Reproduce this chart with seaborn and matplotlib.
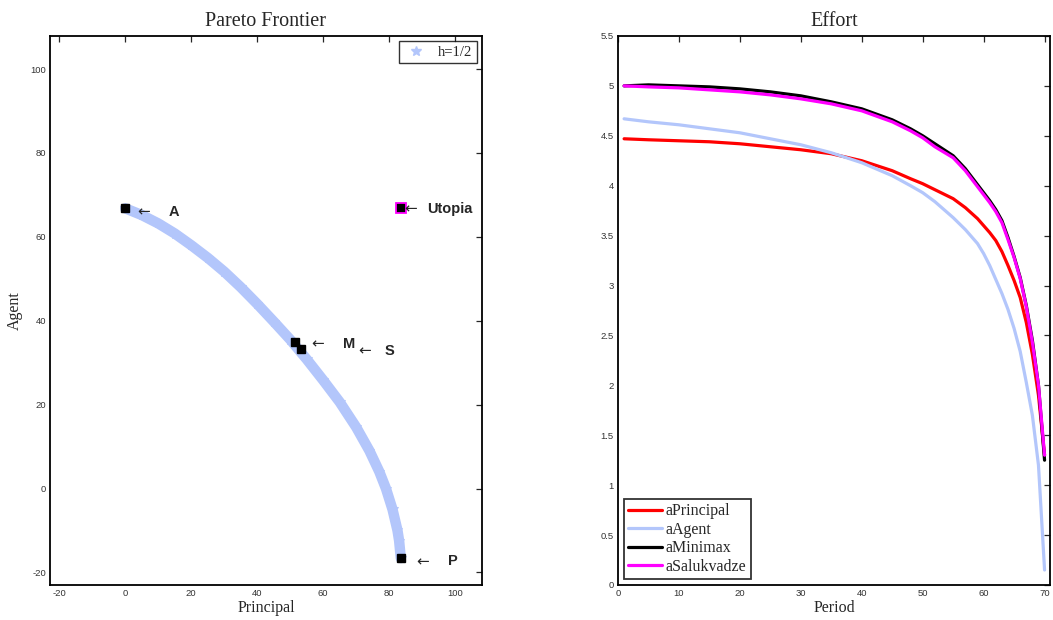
import numpy as np
import pandas as pd
import matplotlib
matplotlib.use("Agg")
import matplotlib.pyplot as plt
from matplotlib.lines import Line2D
import seaborn as sns

# Pareto frontier (h=1/2)
principal = [0.0, 5, 10, 15, 20, 25, 30, 35, 40, 45, 50, 55, 60, 65, 70, 74, 77, 79, 81, 82.5, 83, 83.5]
agent = [66.8, 65.2, 63.2, 60.8, 58.0, 55.0, 51.7, 48.0, 44.0, 39.8, 35.5, 30.8, 25.8, 20.6, 14.6,
         9.0, 4.0, 0.0, -5.0, -10.0, -12.5, -16.6]

# special solutions
point_names = ["A", "M", "S", "P"]
point_principal = [0.0, 51.4, 53.4, 83.5]
point_agent = [66.8, 35.0, 33.2, -16.6]
utopia = (83.5, 66.8)

# effort paths
period = [1, 5, 10, 15, 20, 25, 30, 35, 40, 45, 48, 50, 52, 55, 57, 59, 60, 61, 62, 63, 64, 65,
          66, 67, 68, 69, 70]
a_principal = [4.47, 4.46, 4.45, 4.44, 4.42, 4.39, 4.36, 4.32, 4.25, 4.15, 4.07, 4.02, 3.96, 3.87,
               3.78, 3.67, 3.60, 3.53, 3.45, 3.34, 3.20, 3.05, 2.88, 2.63, 2.31, 1.90, 1.30]
a_agent = [4.67, 4.64, 4.61, 4.57, 4.53, 4.47, 4.41, 4.33, 4.23, 4.10, 4.00, 3.93, 3.84, 3.68,
           3.56, 3.42, 3.32, 3.20, 3.06, 2.92, 2.76, 2.57, 2.34, 2.03, 1.70, 1.20, 0.15]
a_minimax = [5.00, 5.01, 5.00, 4.99, 4.97, 4.94, 4.90, 4.84, 4.77, 4.66, 4.57, 4.50, 4.42, 4.30,
             4.17, 4.01, 3.93, 3.85, 3.76, 3.65, 3.48, 3.29, 3.08, 2.80, 2.45, 2.00, 1.25]
a_salukvadze = [5.00, 4.99, 4.98, 4.96, 4.94, 4.91, 4.87, 4.82, 4.75, 4.64, 4.55, 4.48, 4.39, 4.28,
                4.15, 3.99, 3.91, 3.83, 3.74, 3.63, 3.46, 3.28, 3.07, 2.79, 2.43, 2.00, 1.30]

series_names = ["aPrincipal", "aAgent", "aMinimax", "aSalukvadze"]
series_colors = ["#ff0000", "#b3c6fb", "#000000", "#ff00ff"]

sns.set_style("white")
plt.rcParams["font.family"] = ["Liberation Serif", "DejaVu Serif"]
plt.rcParams["axes.unicode_minus"] = False

LIGHT_BLUE = "#b3c6fb"
SANS = ["Liberation Sans", "DejaVu Sans"]

fig = plt.figure(figsize=(10.53, 6.2), dpi=100)
ax1 = fig.add_axes([0.0475, 0.0565, 0.4102, 0.8855])
ax2 = fig.add_axes([0.5869, 0.0565, 0.4103, 0.8855])


def style_axes(ax):
    for sp in ax.spines.values():
        sp.set_visible(True)
        sp.set_color("black")
        sp.set_linewidth(1.3)
    ax.tick_params(direction="in", top=True, right=True, length=4, width=0.9,
                   labelsize=6.8, labelcolor="#333333", pad=3)
    for lab in ax.get_xticklabels() + ax.get_yticklabels():
        lab.set_family(SANS)


# ---- left: Pareto frontier
front = pd.DataFrame({"Principal": principal, "Agent": agent})
sns.lineplot(data=front, x="Principal", y="Agent", sort=False, estimator=None, ax=ax1,
             color=LIGHT_BLUE, linewidth=7.5, marker="*", markersize=7,
             markeredgecolor=LIGHT_BLUE, legend=False)

pts = pd.DataFrame({"Principal": point_principal, "Agent": point_agent})
ax1.plot(pts["Principal"], pts["Agent"], "s", color="black", markersize=6, linestyle="none")
ax1.plot([utopia[0]], [utopia[1]], "s", markerfacecolor="black", markeredgecolor="#ff00ff",
         markeredgewidth=1.3, markersize=6.5)

lab_kw = dict(ha="left", va="center", fontsize=10.5, fontweight="bold", family=SANS)
arr_kw = dict(ha="left", va="center", fontsize=11, family=["DejaVu Sans"])
# offsets of arrow and letter from each point (principal units, agent units)
offsets = {"A": (3.6, 13.1, -0.9), "M": (5.1, 14.5, -0.6), "S": (17.2, 25.3, -0.5), "P": (4.8, 14.4, -0.8)}
for name, px, py in zip(point_names, point_principal, point_agent):
    da, dl, dy = offsets[name]
    ax1.text(px + da, py + dy, "\u2190", **arr_kw)
    ax1.text(px + dl, py + dy, name, **lab_kw)
ax1.text(utopia[0] + 1.2, utopia[1] - 0.1, "\u2190", **arr_kw)
ax1.text(utopia[0] + 7.9, utopia[1] - 0.1, "Utopia", **lab_kw)

ax1.set_xlim(-22.8, 108.1)
ax1.set_ylim(-23.0, 107.9)
ax1.set_xticks(np.arange(-20, 101, 20))
ax1.set_yticks(np.arange(-20, 101, 20))
ax1.set_title("Pareto Frontier", fontsize=14.5, pad=7)
ax1.set_xlabel("Principal", fontsize=11.5, labelpad=1)
ax1.set_ylabel("Agent", fontsize=11.5, labelpad=5)
style_axes(ax1)

h = Line2D([], [], linestyle="none", marker="*", markersize=7.5, color=LIGHT_BLUE)
leg1 = ax1.legend([h], ["h=1/2"], loc="upper right", fontsize=10.5, frameon=True,
                  fancybox=False, borderpad=0.3, handletextpad=0.6, borderaxespad=0.35,
                  handlelength=1.8)
leg1.get_frame().set_edgecolor("black")
leg1.get_frame().set_linewidth(1.0)

# ---- right: effort
effort = pd.DataFrame({"Period": period * 4,
                       "Effort": a_principal + a_agent + a_minimax + a_salukvadze,
                       "Path": sum([[n] * len(period) for n in series_names], [])})
for name, col in zip(series_names, series_colors):
    sub = effort[effort["Path"] == name]
    sns.lineplot(data=sub, x="Period", y="Effort", ax=ax2, color=col, linewidth=2.3,
                 label=name, sort=False, estimator=None)

ax2.set_xlim(0, 70.9)
ax2.set_ylim(0, 5.5)
ax2.set_xticks(np.arange(0, 71, 10))
ax2.set_yticks(np.arange(0, 5.51, 0.5))
ax2.set_yticklabels(["0", "0.5", "1", "1.5", "2", "2.5", "3", "3.5", "4", "4.5", "5", "5.5"])
ax2.set_title("Effort", fontsize=14.5, pad=7)
ax2.set_xlabel("Period", fontsize=11.5, labelpad=1)
ax2.set_ylabel("")
style_axes(ax2)

leg2 = ax2.legend(loc="lower left", fontsize=11.5, frameon=True, fancybox=False,
                  borderpad=0.3, labelspacing=0.15, handlelength=2.1, handletextpad=0.2,
                  borderaxespad=0.35)
leg2.get_frame().set_edgecolor("black")
leg2.get_frame().set_linewidth(1.3)

fig.savefig("out.png", dpi=100)
